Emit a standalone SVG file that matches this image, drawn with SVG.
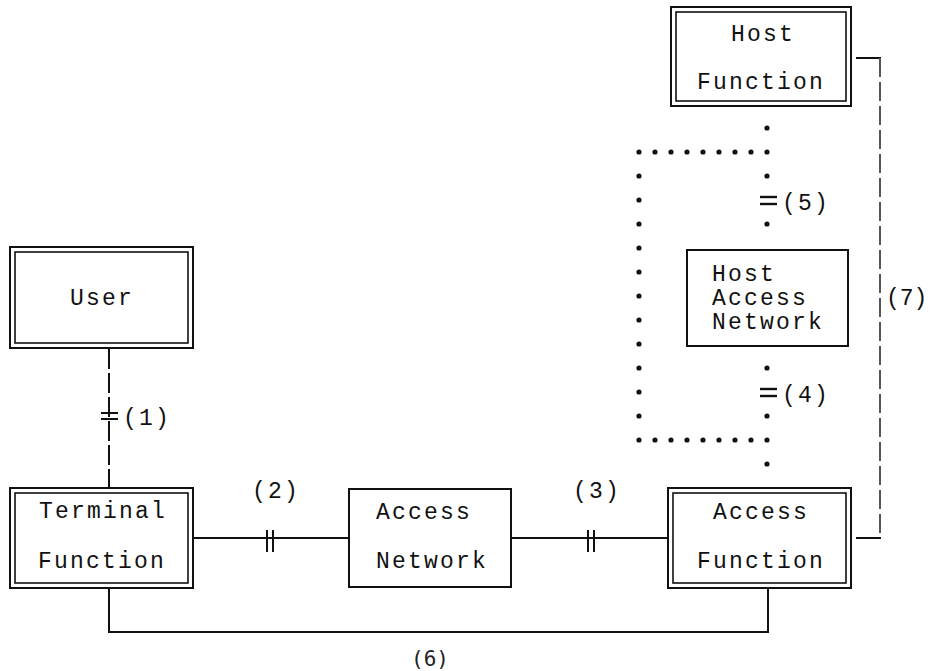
<svg xmlns="http://www.w3.org/2000/svg" width="930" height="671" viewBox="0 0 930 671">
<style>
.t{font-family:"Liberation Mono","DejaVu Sans Mono",monospace;font-size:23px;letter-spacing:2.2px;fill:#111}
.s{font-family:"DejaVu Sans Mono","Liberation Mono",monospace;font-size:21px;fill:#222}
.b{fill:none;stroke:#111;stroke-width:2}
.bi{fill:none;stroke:#111;stroke-width:1.6}
.ln{fill:none;stroke:#111;stroke-width:2}
.da{fill:none;stroke:#111;stroke-width:2;stroke-dasharray:20 4}
.dg{fill:none;stroke:#555;stroke-width:2;stroke-dasharray:19 5}
.dot{fill:#111}
</style>
<rect width="930" height="671" fill="#fff"/>
<g id="connectors">
  <!-- (1) User - Terminal -->
  <line class="da" x1="109" y1="349" x2="109" y2="488"/>
  <line class="ln" x1="101" y1="413" x2="118" y2="413"/>
  <line class="ln" x1="101" y1="419" x2="118" y2="419"/>
  <text class="t" x="123" y="425">(1)</text>
  <!-- (2) Terminal - Access Network -->
  <line class="ln" x1="193" y1="538" x2="349" y2="538"/>
  <line class="ln" x1="267" y1="530" x2="267" y2="552"/>
  <line class="ln" x1="273" y1="530" x2="273" y2="552"/>
  <text class="t" x="252" y="498">(2)</text>
  <!-- (3) Access Network - Access Function -->
  <line class="ln" x1="511" y1="538" x2="668" y2="538"/>
  <line class="ln" x1="588" y1="530" x2="588" y2="552"/>
  <line class="ln" x1="594" y1="530" x2="594" y2="552"/>
  <text class="t" x="573" y="498">(3)</text>
  <!-- (6) Terminal - Access Function -->
  <polyline class="ln" points="109,588 109,632 768,632 768,588"/>
  <text class="s" x="430" y="666" text-anchor="middle">(6)</text>
  <!-- (7) Host Function - Access Function -->
  <line class="ln" x1="856" y1="58" x2="881" y2="58"/>
  <line class="dg" x1="880" y1="58" x2="880" y2="538"/>
  <line class="ln" x1="856" y1="538" x2="881" y2="538"/>
  <text class="t" x="886" y="305" style="letter-spacing:0">(7)</text>
  <!-- dotted path (4)/(5) -->
  <g id="dots">
    <circle class="dot" cx="767" cy="128" r="2.6"/>
    <circle class="dot" cx="767" cy="176" r="2.6"/>
    <circle class="dot" cx="767" cy="224" r="2.6"/>
    <circle class="dot" cx="767" cy="368" r="2.6"/>
    <circle class="dot" cx="767" cy="416" r="2.6"/>
    <circle class="dot" cx="767" cy="464" r="2.6"/>
    <circle class="dot" cx="639" cy="152" r="2.6"/><circle class="dot" cx="655" cy="152" r="2.6"/><circle class="dot" cx="671" cy="152" r="2.6"/><circle class="dot" cx="687" cy="152" r="2.6"/><circle class="dot" cx="703" cy="152" r="2.6"/><circle class="dot" cx="719" cy="152" r="2.6"/><circle class="dot" cx="735" cy="152" r="2.6"/><circle class="dot" cx="751" cy="152" r="2.6"/><circle class="dot" cx="767" cy="152" r="2.6"/>
    <circle class="dot" cx="639" cy="440" r="2.6"/><circle class="dot" cx="655" cy="440" r="2.6"/><circle class="dot" cx="671" cy="440" r="2.6"/><circle class="dot" cx="687" cy="440" r="2.6"/><circle class="dot" cx="703" cy="440" r="2.6"/><circle class="dot" cx="719" cy="440" r="2.6"/><circle class="dot" cx="735" cy="440" r="2.6"/><circle class="dot" cx="751" cy="440" r="2.6"/><circle class="dot" cx="767" cy="440" r="2.6"/>
    <circle class="dot" cx="639" cy="176" r="2.6"/><circle class="dot" cx="639" cy="200" r="2.6"/><circle class="dot" cx="639" cy="224" r="2.6"/><circle class="dot" cx="639" cy="248" r="2.6"/><circle class="dot" cx="639" cy="272" r="2.6"/><circle class="dot" cx="639" cy="296" r="2.6"/><circle class="dot" cx="639" cy="320" r="2.6"/><circle class="dot" cx="639" cy="344" r="2.6"/><circle class="dot" cx="639" cy="368" r="2.6"/><circle class="dot" cx="639" cy="392" r="2.6"/><circle class="dot" cx="639" cy="416" r="2.6"/>
  </g>
  <line class="ln" x1="760" y1="197" x2="777" y2="197" style="stroke-width:2.4"/>
  <line class="ln" x1="760" y1="204" x2="777" y2="204" style="stroke-width:2.4"/>
  <text class="t" x="782" y="210">(5)</text>
  <line class="ln" x1="760" y1="389" x2="777" y2="389" style="stroke-width:2.4"/>
  <line class="ln" x1="760" y1="396" x2="777" y2="396" style="stroke-width:2.4"/>
  <text class="t" x="782" y="402">(4)</text>
</g>
<g id="host-function">
  <rect class="b" x="671" y="7" width="180" height="99"/>
  <rect class="bi" x="676" y="12" width="170" height="89"/>
  <text class="t" x="731" y="41">Host</text>
  <text class="t" x="697" y="89">Function</text>
</g>
<g id="user">
  <rect class="b" x="10" y="247" width="183" height="101"/>
  <rect class="bi" x="15" y="252" width="173" height="91"/>
  <text class="t" x="70" y="305">User</text>
</g>
<g id="host-access-network">
  <rect class="b" x="687" y="250" width="161" height="96"/>
  <text class="t" x="712" y="281">Host</text>
  <text class="t" x="712" y="305">Access</text>
  <text class="t" x="712" y="329">Network</text>
</g>
<g id="terminal-function">
  <rect class="b" x="10" y="488" width="183" height="100"/>
  <rect class="bi" x="15" y="493" width="173" height="90"/>
  <text class="t" x="39" y="518">Terminal</text>
  <text class="t" x="38" y="568">Function</text>
</g>
<g id="access-network">
  <rect class="b" x="349" y="489" width="162" height="98"/>
  <text class="t" x="376" y="519">Access</text>
  <text class="t" x="376" y="568">Network</text>
</g>
<g id="access-function">
  <rect class="b" x="668" y="488" width="183" height="100"/>
  <rect class="bi" x="673" y="493" width="173" height="90"/>
  <text class="t" x="713" y="519">Access</text>
  <text class="t" x="697" y="568">Function</text>
</g>
</svg>
